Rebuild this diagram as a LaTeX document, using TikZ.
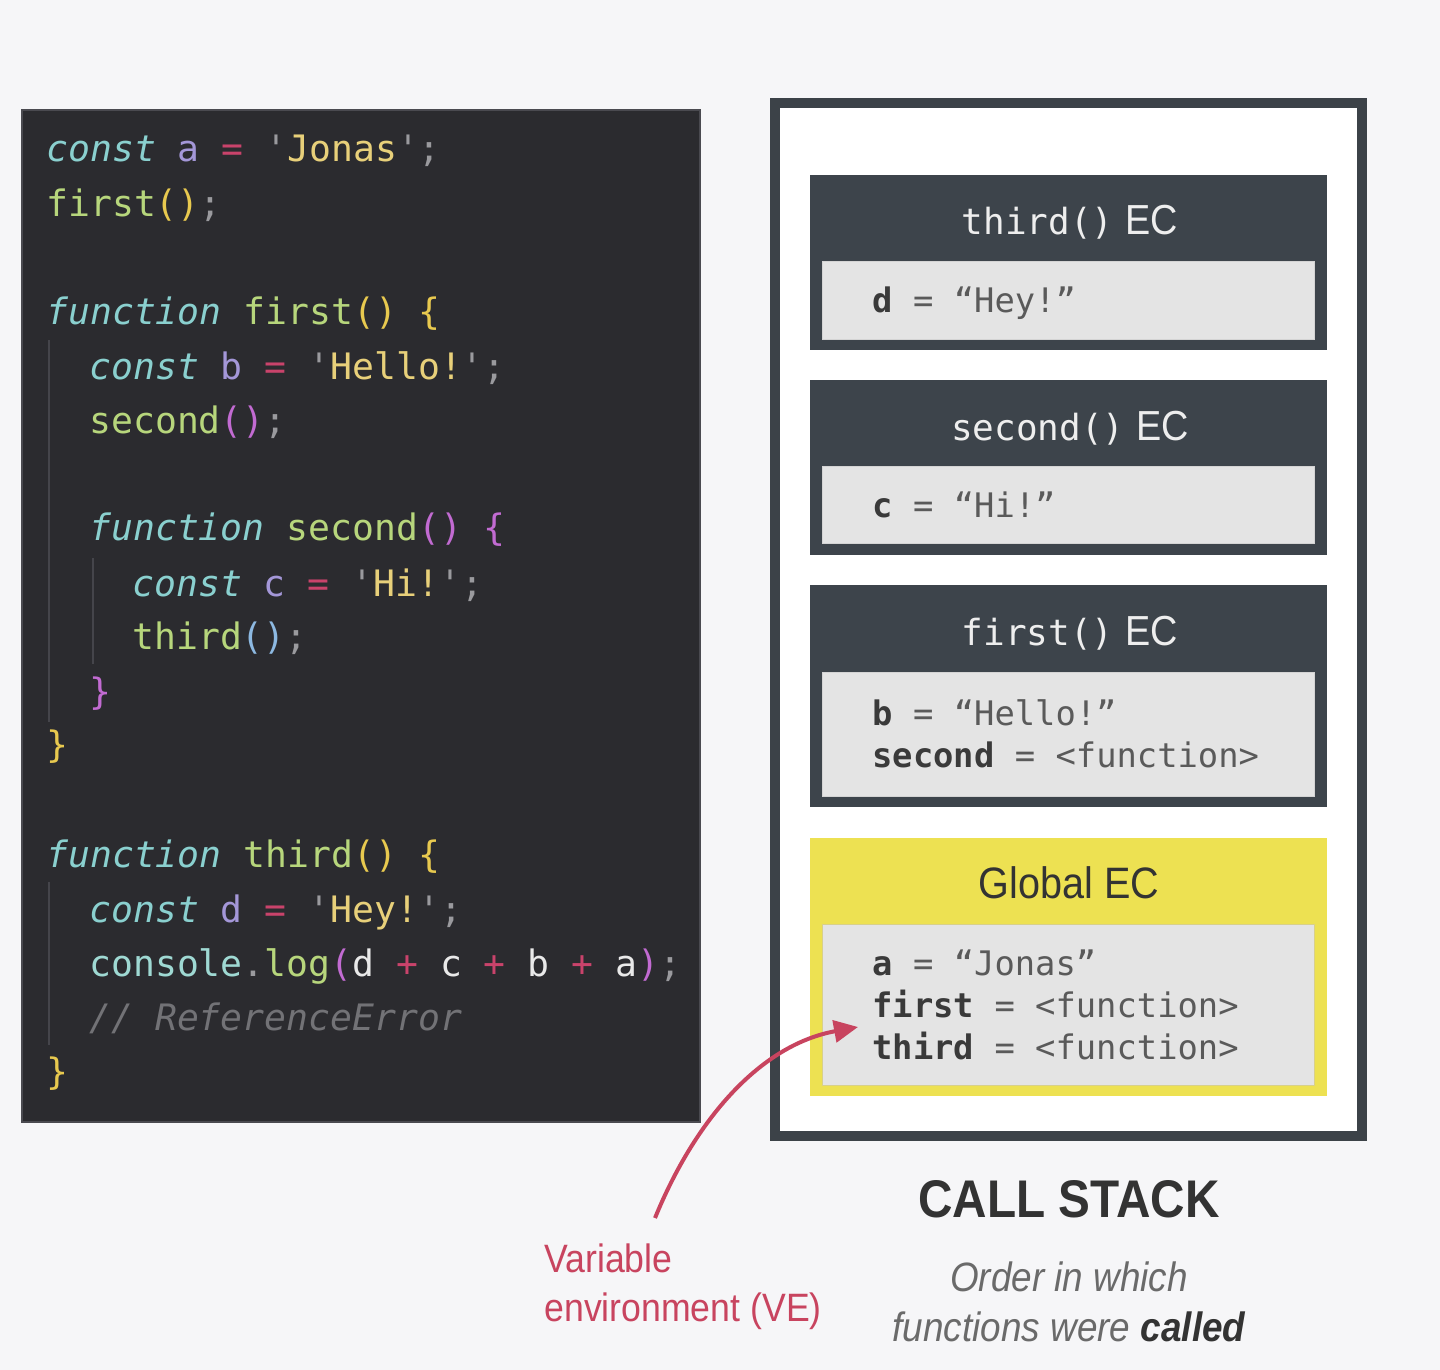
\documentclass[tikz,border=0pt]{standalone}
\usepackage{fontspec}
\usetikzlibrary{arrows.meta}
\newfontfamily\codefont[Ligatures=TeXOff]{DejaVu Sans Mono}
\newfontfamily\rob[FakeStretch=0.9]{Liberation Sans}
\definecolor{bg}{HTML}{F6F6F8}
\definecolor{panel}{HTML}{2B2B2F}
\definecolor{panelrim}{HTML}{4A4A50}
\definecolor{guide}{HTML}{45454B}
\definecolor{ckw}{HTML}{8AD0CF}
\definecolor{cvar}{HTML}{A497D8}
\definecolor{ceq}{HTML}{C9436B}
\definecolor{cstr}{HTML}{E8D07A}
\definecolor{cpun}{HTML}{9A9A9E}
\definecolor{cfn}{HTML}{B7D67C}
\definecolor{cyel}{HTML}{E8C94F}
\definecolor{cpur}{HTML}{C26BD2}
\definecolor{cblu}{HTML}{8DB9E2}
\definecolor{cwht}{HTML}{E9E9E9}
\definecolor{ccom}{HTML}{727276}
\definecolor{ccon}{HTML}{9FD9D3}
\definecolor{frame}{HTML}{3C4248}
\definecolor{hdr}{HTML}{3D444B}
\definecolor{inner}{HTML}{E4E4E4}
\definecolor{innerrim}{HTML}{D4D4D4}
\definecolor{innerrimg}{HTML}{D8D08A}
\definecolor{gyel}{HTML}{EDE152}
\definecolor{vecol}{HTML}{C8445F}
\definecolor{dark}{HTML}{333333}
\definecolor{varname}{HTML}{3A3A3A}
\definecolor{varval}{HTML}{5A5A5A}
\definecolor{titletxt}{HTML}{EEEEEE}
\definecolor{subtxt}{HTML}{6A6A6A}
\newcommand\cK[1]{\textcolor{ckw}{\itshape #1}}
\newcommand\cV[1]{\textcolor{cvar}{#1}}
\newcommand\cE[1]{\textcolor{ceq}{#1}}
\newcommand\cS[1]{\textcolor{cstr}{#1}}
\newcommand\cP[1]{\textcolor{cpun}{#1}}
\newcommand\cF[1]{\textcolor{cfn}{#1}}
\newcommand\cY[1]{\textcolor{cyel}{#1}}
\newcommand\cM[1]{\textcolor{cpur}{#1}}
\newcommand\cB[1]{\textcolor{cblu}{#1}}
\newcommand\cW[1]{\textcolor{cwht}{#1}}
\newcommand\cX[1]{\textcolor{ccom}{\itshape #1}}
\newcommand\cC[1]{\textcolor{ccon}{#1}}
\newcommand\vN[1]{\textcolor{varname}{\bfseries #1}}
\newcommand\vQ[1]{\textcolor{varval}{#1}}
\tikzset{
  codeline/.style={anchor=base west, inner sep=0pt, font=\codefont\fontsize{18.2pt}{20pt}\selectfont},
  varline/.style={anchor=base west, inner sep=0pt, font=\codefont\fontsize{16.9pt}{20pt}\selectfont, text=varval},
  ectitle/.style={anchor=base, inner sep=0pt, text=titletxt},
  hdrbox/.style={fill=hdr, draw=none, inner sep=0pt, outer sep=0pt, minimum width=258.5pt},
  innerbox/.style={fill=inner, draw=innerrim, line width=0.5pt, inner sep=0pt, outer sep=0pt, minimum width=246pt},
  guideline/.style={draw=guide, line width=1pt},
  vearrow/.style={draw=vecol, line width=2pt, -{Triangle[length=12pt,width=11pt]}},
}
\newcommand\tmono{\codefont\fontsize{18pt}{20pt}\selectfont}
\newcommand\tsans{\rob\fontsize{21pt}{24pt}\selectfont}
\begin{document}
\begin{tikzpicture}[x=0.5pt,y=-0.5pt]
\path[fill=bg] (0,0) rectangle (1440,1370);
\useasboundingbox (0,0) rectangle (1440,1370);

% code panel
\node[fill=panel, draw=panelrim, line width=0.8pt, inner sep=0pt, minimum width=339pt, minimum height=506pt] (code) at (361,616) {};
\coordinate (g1a) at (49,340); \coordinate (g1b) at (49,722);
\coordinate (g2a) at (93,558); \coordinate (g2b) at (93,664);
\coordinate (g3a) at (49,882); \coordinate (g3b) at (49,1045);
\draw[guideline] (g1a) -- (g1b);
\draw[guideline] (g2a) -- (g2b);
\draw[guideline] (g3a) -- (g3b);

\node[codeline] (l1) at (46,162) {\cK{const} \cV{a} \cE{=} \cP{'}\cS{Jonas}\cP{';}};
\node[codeline] (l2) at (46,216) {\cF{first}\cY{()}\cP{;}};
\node[codeline] (l3) at (46,324) {\cK{function} \cF{first}\cY{() \{}};
\node[codeline] (l4) at (89,379) {\cK{const} \cV{b} \cE{=} \cP{'}\cS{Hello!}\cP{';}};
\node[codeline] (l5) at (89,433) {\cF{second}\cM{()}\cP{;}};
\node[codeline] (l6) at (89,540) {\cK{function} \cF{second}\cM{() \{}};
\node[codeline] (l7) at (132,596) {\cK{const} \cV{c} \cE{=} \cP{'}\cS{Hi!}\cP{';}};
\node[codeline] (l8) at (132,649) {\cF{third}\cB{()}\cP{;}};
\node[codeline] (l9) at (89,704) {\cM{\}}};
\node[codeline] (l10) at (46,757) {\cY{\}}};
\node[codeline] (l11) at (46,867) {\cK{function} \cF{third}\cY{() \{}};
\node[codeline] (l12) at (89,922) {\cK{const} \cV{d} \cE{=} \cP{'}\cS{Hey!}\cP{';}};
\node[codeline] (l13) at (89,976) {\cC{console}\cP{.}\cF{log}\cM{(}\cW{d} \cE{+} \cW{c} \cE{+} \cW{b} \cE{+} \cW{a}\cM{)}\cP{;}};
\node[codeline] (l14) at (89,1030) {\cX{// ReferenceError}};
\node[codeline] (l15) at (46,1084) {\cY{\}}};

% call stack frame
\node[fill=white, draw=frame, line width=5pt, inner sep=0pt, outer sep=0pt, minimum width=293.5pt, minimum height=516.5pt] (stack) at (1068.5,619.5) {};

% third
\node[hdrbox, minimum height=87.5pt] (ec3) at (1068.5,262.5) {};
\node[innerbox, minimum height=39pt] (ve3) at (1068,300) {};
\node[ectitle] (t3) at (1070,234) {{\tmono third()}\hspace{6pt}{\tsans EC}};
\node[varline] (v3) at (872,312) {\vN{d} = \vQ{“Hey!”}};

% second
\node[hdrbox, minimum height=87.5pt] (ec2) at (1068.5,467.5) {};
\node[innerbox, minimum height=38.5pt] (ve2) at (1068,504.5) {};
\node[ectitle] (t2) at (1070,440) {{\tmono second()}\hspace{6pt}{\tsans EC}};
\node[varline] (v2) at (872,517) {\vN{c} = \vQ{“Hi!”}};

% first
\node[hdrbox, minimum height=111pt] (ec1) at (1068.5,696) {};
\node[innerbox, minimum height=62pt] (ve1) at (1068,734) {};
\node[ectitle] (t1) at (1070,645) {{\tmono first()}\hspace{6pt}{\tsans EC}};
\node[varline] (v1a) at (872,725) {\vN{b} = \vQ{“Hello!”}};
\node[varline] (v1b) at (872,767) {\vN{second} = \vQ{<function>}};

% global
\node[fill=gyel, inner sep=0pt, outer sep=0pt, minimum width=258.5pt, minimum height=129pt] (ecg) at (1068.5,967) {};
\node[innerbox, draw=innerrimg, minimum height=80.5pt] (veg) at (1068,1004.5) {};
\node[anchor=base, inner sep=0pt, text=dark, font=\rob\fontsize{22pt}{26pt}\selectfont] (tg) at (1069,898) {Global EC};
\node[varline] (vga) at (872,975) {\vN{a} = \vQ{“Jonas”}};
\node[varline] (vgb) at (872,1017) {\vN{first} = \vQ{<function>}};
\node[varline] (vgc) at (872,1059) {\vN{third} = \vQ{<function>}};

% captions
\node[anchor=base, inner sep=0pt, text=dark, font=\rob\bfseries\fontsize{26.5pt}{30pt}\selectfont] (cs) at (1069,1217) {CALL STACK};
\node[anchor=base, inner sep=0pt, text=subtxt, font=\rob\itshape\fontsize{20.5pt}{24pt}\selectfont] (ord1) at (1069,1291) {Order in which};
\node[anchor=base, inner sep=0pt, text=subtxt, font=\rob\itshape\fontsize{20.5pt}{24pt}\selectfont] (ord2) at (1069,1341) {functions were \textcolor{dark}{\bfseries called}};

% variable environment label and arrow
\node[anchor=base west, inner sep=0pt, text=vecol, font=\rob\fontsize{19.8pt}{24pt}\selectfont] (vel1) at (544,1272) {Variable};
\node[anchor=base west, inner sep=0pt, text=vecol, font=\rob\fontsize{19.8pt}{24pt}\selectfont] (vel2) at (544,1321) {environment (VE)};
\coordinate (vestart) at (655,1218);
\coordinate (vetip) at (858,1027);
\draw[vearrow] (vestart) .. controls (695,1120) and (760,1045) .. (vetip);
\end{tikzpicture}
\end{document}
